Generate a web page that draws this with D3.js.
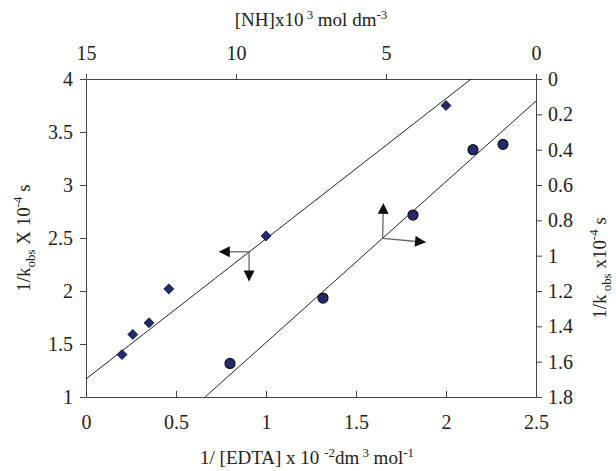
<!DOCTYPE html>
<html>
<head>
<meta charset="utf-8">
<script src="https://cdn.jsdelivr.net/npm/d3@7"></script>
<style>
  body { margin: 0; background: #fff; }
  text { font-family: "Liberation Serif", "Times New Roman", serif; fill: #222; }
</style>
</head>
<body>
<div id="chart"></div>
<script>
// diamonds: bottom axis (1/[EDTA]) vs left axis (1/kobs)
var edtaInv = [0.2, 0.26, 0.35, 0.46, 1.0, 2.0];
var kobsInvA = [1.4, 1.59, 1.7, 2.02, 2.52, 3.75];

// circles: top axis ([NH]) vs right axis (1/kobs)
var nhConc = [10.2, 7.1, 4.1, 2.1, 1.1];
var kobsInvB = [1.61, 1.24, 0.77, 0.4, 0.37];

// fitted lines, end points in axis units
var fitA = [[0, 1.17], [2.14, 4]];
var fitB = [[11.03, 1.8], [0, 0.125]];

// arrows: corner, then tips (data units of left/bottom axes)
var arrowA = { corner: [0.906, 2.37], tips: [[0.744, 2.37], [0.906, 2.10]] };
var arrowB = { corner: [1.648, 2.497], tips: [[1.652, 2.82], [1.883, 2.46]] };

var bottomTicks = [0, 0.5, 1, 1.5, 2, 2.5];
var leftTicks = [1, 1.5, 2, 2.5, 3, 3.5, 4];
var topTicks = [15, 10, 5, 0];
var rightTicks = [0, 0.2, 0.4, 0.6, 0.8, 1, 1.2, 1.4, 1.6, 1.8];

var width = 616, height = 471;
var mLeft = 86, mRight = 536, mTop = 79, mBottom = 397;

var svg = d3.select("#chart").append("svg")
	.attr("width", width)
	.attr("height", height);

var x = d3.scaleLinear().domain([0, 2.5]).range([mLeft, mRight]);
var y = d3.scaleLinear().domain([1, 4]).range([mBottom, mTop]);
var xTop = d3.scaleLinear().domain([15, 0]).range([mLeft, mRight]);
var yRight = d3.scaleLinear().domain([0, 1.8]).range([mTop, mBottom]);

var fs = 19;
var tickFs = 20;

function styleAxis(g) {
	g.select(".domain").attr("stroke", "#444");
	g.selectAll(".tick line").attr("stroke", "#444");
	g.selectAll(".tick text")
		.attr("font-family", "Liberation Serif, serif")
		.attr("font-size", tickFs)
		.attr("fill", "#222");
}

// bottom axis: ticks inward
svg.append("g")
	.attr("transform", `translate(0,${mBottom})`)
	.call(d3.axisTop(x).tickValues(bottomTicks).tickFormat(d3.format("")).tickSizeInner(6).tickSizeOuter(0))
	.call(styleAxis)
	.call(g => g.selectAll(".tick text").attr("y", 0).attr("dy", "1.6em"));

svg.append("g")
	.attr("transform", `translate(${mLeft},0)`)
	.call(d3.axisLeft(y).tickValues(leftTicks).tickFormat(d3.format("")).tickSizeInner(6).tickSizeOuter(0))
	.call(styleAxis)
	.call(g => g.selectAll(".tick text").attr("x", -13));

svg.append("g")
	.attr("transform", `translate(0,${mTop})`)
	.call(d3.axisTop(xTop).tickValues(topTicks).tickFormat(d3.format("")).tickSizeInner(5).tickSizeOuter(0))
	.call(styleAxis)
	.call(g => g.selectAll(".tick text").attr("y", -19));

svg.append("g")
	.attr("transform", `translate(${mRight},0)`)
	.call(d3.axisRight(yRight).tickValues(rightTicks).tickFormat(d3.format("")).tickSizeInner(6).tickSizeOuter(0))
	.call(styleAxis)
	.call(g => g.selectAll(".tick text").attr("x", 12));

// fit lines
svg.append("line")
	.attr("x1", x(fitA[0][0])).attr("y1", y(fitA[0][1]))
	.attr("x2", x(fitA[1][0])).attr("y2", y(fitA[1][1]))
	.attr("stroke", "#222").attr("stroke-width", 1);

svg.append("line")
	.attr("x1", xTop(fitB[0][0])).attr("y1", yRight(fitB[0][1]))
	.attr("x2", xTop(fitB[1][0])).attr("y2", yRight(fitB[1][1]))
	.attr("stroke", "#222").attr("stroke-width", 1);

// markers
svg.selectAll("path.diamond")
	.data(edtaInv)
	.enter()
	.append("path")
	.attr("class", "diamond")
	.attr("d", d3.symbol().type(d3.symbolDiamond2).size(64))
	.attr("transform", (d, i) => `translate(${x(d)},${y(kobsInvA[i])})`)
	.attr("fill", "#232a6e")
	.attr("stroke", "#111")
	.attr("stroke-width", 0.8);

svg.selectAll("circle.pt")
	.data(nhConc)
	.enter()
	.append("circle")
	.attr("class", "pt")
	.attr("cx", d => xTop(d))
	.attr("cy", (d, i) => yRight(kobsInvB[i]))
	.attr("r", 5)
	.attr("fill", "#232a6e")
	.attr("stroke", "#111")
	.attr("stroke-width", 1.2);

// arrows
var defs = svg.append("defs");
defs.append("marker")
	.attr("id", "head")
	.attr("viewBox", "0 0 10 10")
	.attr("refX", 9).attr("refY", 5)
	.attr("markerWidth", 12).attr("markerHeight", 11)
	.attr("markerUnits", "userSpaceOnUse")
	.attr("orient", "auto")
	.append("path")
	.attr("d", "M0,0 L10,5 L0,10 Z")
	.attr("fill", "#111");

[arrowA, arrowB].forEach(function(a) {
	a.tips.forEach(function(t) {
		svg.append("line")
			.attr("x1", x(a.corner[0])).attr("y1", y(a.corner[1]))
			.attr("x2", x(t[0])).attr("y2", y(t[1]))
			.attr("stroke", "#666").attr("stroke-width", 1.3)
			.attr("marker-end", "url(#head)");
	});
});

// axis titles: parts with optional raise (px, negative = up)
function rich(sel, parts) {
	var shift = 0;
	parts.forEach(function(p) {
		var lift = p.lift || 0;
		var t = sel.append("tspan").text(p.t).attr("dy", lift - shift);
		if (lift !== 0) t.attr("font-size", fs * 0.68);
		shift = lift;
	});
}

var topTitle = svg.append("text")
	.attr("x", (mLeft + mRight) / 2).attr("y", 26)
	.attr("text-anchor", "middle").attr("font-size", fs);
rich(topTitle, [
	{ t: "[NH]x10" }, { t: " 3", lift: -7 }, { t: " mol dm" }, { t: "-3", lift: -7 }
]);

var botTitle = svg.append("text")
	.attr("x", (mLeft + mRight) / 2 - 4).attr("y", 464)
	.attr("text-anchor", "middle").attr("font-size", fs);
rich(botTitle, [
	{ t: "1/ [EDTA] x 10 " }, { t: "-2", lift: -7 }, { t: "dm" },
	{ t: " 3", lift: -7 }, { t: " mol" }, { t: "-1", lift: -7 }
]);

var leftTitle = svg.append("text")
	.attr("transform", `translate(30,${(mTop + mBottom) / 2}) rotate(-90)`)
	.attr("text-anchor", "middle").attr("font-size", fs);
rich(leftTitle, [
	{ t: "1/k" }, { t: "obs", lift: 5 }, { t: " X 10" },
	{ t: "-4", lift: -8 }, { t: " s" }
]);

var rightTitle = svg.append("text")
	.attr("transform", `translate(606,268) rotate(-90)`)
	.attr("text-anchor", "middle").attr("font-size", fs);
rich(rightTitle, [
	{ t: "1/k" }, { t: " obs", lift: 5 }, { t: " x10" },
	{ t: "-4", lift: -8 }, { t: " s" }
]);
</script>
</body>
</html>
